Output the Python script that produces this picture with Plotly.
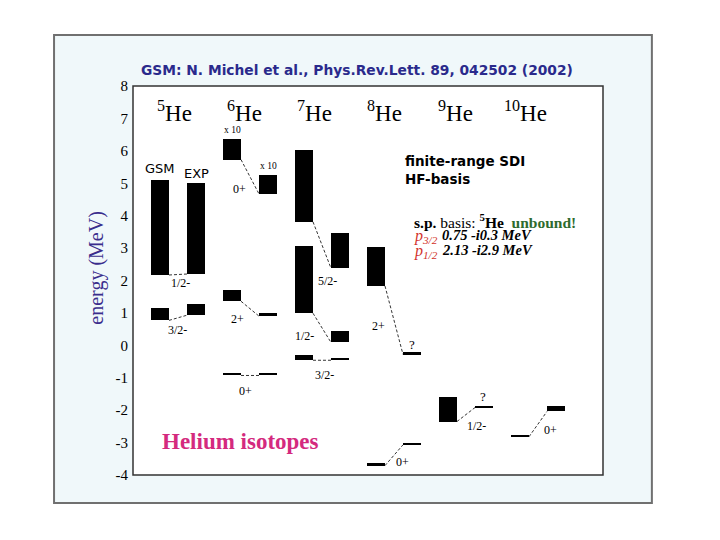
import plotly.graph_objects as go

# ---------------- data ----------------
isotope_mass = ["5", "6", "7", "8", "9", "10"]

level_iso   = [0, 0, 1, 1, 1, 2, 2, 2, 3, 3, 4, 5]
level_label = ["1/2-", "3/2-", "0+", "2+", "0+", "3/2-", "1/2-", "5/2-", "0+", "2+", "1/2-", "0+"]
gsm_energy  = [2.17, 0.77, -0.93, 1.36, 5.73, -0.46, 0.99, 3.81, -3.71, 1.83, -2.35, -2.82]
gsm_width   = [2.93, 0.38, 0.07, 0.34, 0.62, 0.15, 2.08, 2.23, 0.07, 1.20, 0.77, 0.06]
exp_energy  = [2.20, 0.93, -0.93, 0.90, 4.67, -0.46, 0.09, 2.38, -3.07, -0.28, -1.92, -2.04]
exp_width   = [2.80, 0.34, 0.07, 0.09, 0.59, 0.07, 0.34, 1.09, 0.05, 0.06, 0.05, 0.18]

# label placement (layout, relative to isotope column / absolute energy)
label_dx = [0.28, 0.24, 0.19, 0.07, 0.11, 0.29, 0.01, 0.32, 0.375, 0.03, 0.40, 0.43]
label_y  = [1.92, 0.46, -1.42, 0.80, 4.83, -0.90, 0.28, 1.98, -3.59, 0.59, -2.50, -2.60]

y_ticks = [-4, -3, -2, -1, 0, 1, 2, 3, 4, 5, 6, 7, 8]

sp_states = ["p<sub>3/2</sub>", "p<sub>1/2</sub>"]
sp_values = ["0.75 -i0.3 MeV", "2.13 -i2.9 MeV"]

BAR_W = 0.25
EXP_OFF = 0.5

gsm_x = [level_iso[k] for k in range(len(level_iso))]
exp_x = [level_iso[k] + EXP_OFF for k in range(len(level_iso))]

fig = go.Figure()

fig.add_trace(go.Bar(x=gsm_x, y=gsm_width, base=gsm_energy, width=BAR_W,
                     marker=dict(color="black", line=dict(width=0)), name="GSM",
                     showlegend=False))
fig.add_trace(go.Bar(x=exp_x, y=exp_width, base=exp_energy, width=BAR_W,
                     marker=dict(color="black", line=dict(width=0)), name="EXP",
                     showlegend=False))

# dashed connectors GSM -> EXP
cx, cy = [], []
for k in range(len(level_iso)):
    cx += [gsm_x[k] + BAR_W / 2, exp_x[k] - BAR_W / 2, None]
    cy += [gsm_energy[k], exp_energy[k], None]
fig.add_trace(go.Scatter(x=cx, y=cy, mode="lines",
                         line=dict(color="black", width=0.8, dash="3px,2px"),
                         showlegend=False, hoverinfo="skip"))

serif = "Liberation Serif"
comic = "DejaVu Sans"
ann = []

# level labels
for k in range(len(level_iso)):
    ann.append(dict(x=level_iso[k] + label_dx[k], y=label_y[k], text=level_label[k],
                    showarrow=False, font=dict(family=serif, size=12, color="black")))
# question marks & x10
ann.append(dict(x=3.5, y=0.03, text="?", showarrow=False, font=dict(family=serif, size=13, color="black")))
ann.append(dict(x=4.49, y=-1.58, text="?", showarrow=False, font=dict(family=serif, size=13, color="black")))
ann.append(dict(x=1.0, y=6.63, text="x 10", showarrow=False, font=dict(family=serif, size=9.5, color="black")))
ann.append(dict(x=1.5, y=5.54, text="x 10", showarrow=False, font=dict(family=serif, size=9.5, color="black")))

# isotope labels
for i, m in enumerate(isotope_mass):
    ann.append(dict(x=i + 0.2 - 0.025 * i, y=7.2, text="<sup>%s</sup>He" % m, showarrow=False,
                    font=dict(family=serif, size=23, color="black")))

# GSM / EXP
ann.append(dict(x=0.0, y=5.45, text="GSM", showarrow=False, font=dict(family=comic, size=13, color="black")))
ann.append(dict(x=0.51, y=5.29, text="EXP", showarrow=False, font=dict(family=comic, size=13, color="black")))

# method text
ann.append(dict(x=3.375, y=5.70, text="<b>finite-range SDI</b>", xanchor="left", showarrow=False,
                font=dict(family=comic, size=13.5, color="black")))
ann.append(dict(x=3.375, y=5.14, text="<b>HF-basis</b>", xanchor="left", showarrow=False,
                font=dict(family=comic, size=13.5, color="black")))
ann.append(dict(x=3.5, y=3.84,
                text="<b>s.p.</b> basis: <b><sup>5</sup>He</b>  <b><span style='color:#2e6b2e'>unbound!</span></b>",
                xanchor="left", showarrow=False, font=dict(family=serif, size=15.5, color="black")))
sp_y = [3.37, 2.91]
for s, v, yy in zip(sp_states, sp_values, sp_y):
    ann.append(dict(x=3.5, y=yy, text="<i>%s</i>" % s, xanchor="left", showarrow=False,
                    font=dict(family=serif, size=16, color="#d2322a")))
    ann.append(dict(x=3.89, y=yy + 0.03, text="<b><i>%s</i></b>" % v, xanchor="left", showarrow=False,
                    font=dict(family=serif, size=14.5, color="black")))

ann.append(dict(x=0.0, y=-2.97, text="<b>Helium isotopes</b>", xanchor="left", showarrow=False,
                font=dict(family=serif, size=23, color="#d42a7e")))

# title and axis title (paper coords)
ann.append(dict(x=0.477, y=1.067, xref="paper", yref="paper",
                text="<b>GSM: N. Michel et al., Phys.Rev.Lett. 89, 042502 (2002)</b>",
                showarrow=False, font=dict(family=comic, size=13.8, color="#2a2a8c")))
ann.append(dict(x=-0.0766, y=0.533, xref="paper", yref="paper", text="energy (MeV)",
                xanchor="center", yanchor="middle",
                textangle=-90, showarrow=False, font=dict(family=serif, size=20, color="#3a2d8c")))

shapes = [
    dict(type="rect", xref="paper", yref="paper", x0=-0.168, x1=1.104, y0=-0.072, y1=1.131,
         fillcolor="#f0f8fa", line=dict(color="#707070", width=2), layer="below"),
    dict(type="rect", xref="paper", yref="paper", x0=0, x1=1, y0=0, y1=1,
         fillcolor="white", line=dict(color="#333333", width=1.5), layer="below"),
]

# page body has an 8px margin, so the figure is offset by 8px
fig.update_layout(
    width=712, height=532,
    margin=dict(l=125, r=117, t=78, b=65),
    paper_bgcolor="white", plot_bgcolor="rgba(0,0,0,0)",
    barmode="overlay", bargap=0,
    annotations=ann, shapes=shapes,
    xaxis=dict(range=[-0.375, 6.153], showgrid=False, zeroline=False, showticklabels=False,
               showline=False, fixedrange=True),
    yaxis=dict(range=[-4, 8], tickvals=y_ticks, ticktext=[str(v) for v in y_ticks],
               showgrid=False, zeroline=False, showline=False, ticks="",
               tickfont=dict(family=serif, size=15, color="black"), ticklabelstandoff=4),
    showlegend=False,
)

fig.write_html("out.html")
